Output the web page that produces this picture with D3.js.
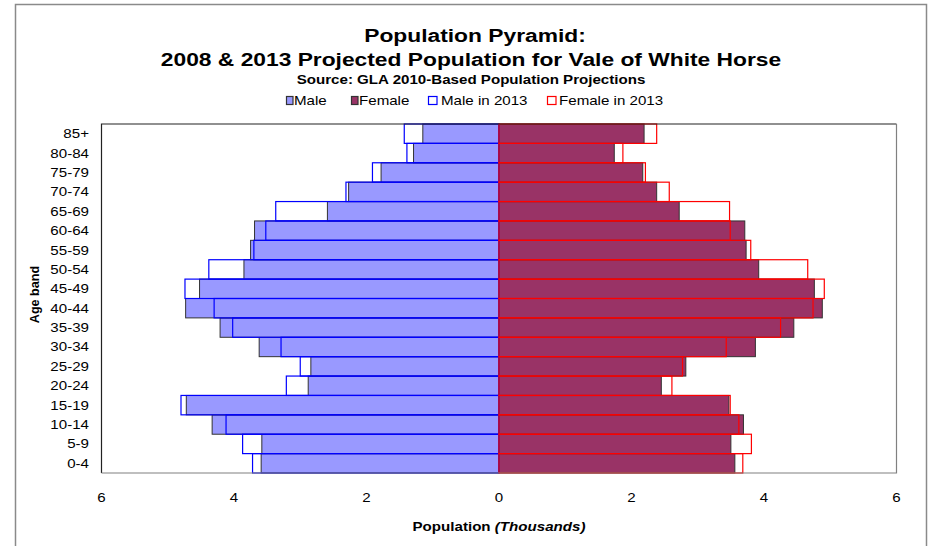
<!DOCTYPE html>
<html>
<head>
<meta charset="utf-8">
<script src="https://cdn.jsdelivr.net/npm/d3@7"></script>
<style>
  html, body { margin: 0; padding: 0; background: #fff; }
  svg { display: block; font-family: "Liberation Sans", Arial, sans-serif; }
</style>
</head>
<body>
<svg id="chart" width="934" height="546"></svg>
<script>
// Age bands, youngest first (drawn bottom to top)
const ageBands = ["0-4","5-9","10-14","15-19","20-24","25-29","30-34","35-39","40-44",
                  "45-49","50-54","55-59","60-64","65-69","70-74","75-79","80-84","85+"];
// Population in thousands
const male2008   = [3.59,3.58,4.33,4.72,2.88,2.84,3.62,4.21,4.73,4.52,3.85,3.75,3.69,2.59,2.27,1.78,1.29,1.15];
const female2008 = [3.56,3.50,3.69,3.47,2.45,2.82,3.87,4.45,4.88,4.76,3.92,3.73,3.71,2.72,2.38,2.17,1.74,2.19];
const male2013   = [3.72,3.87,4.12,4.80,3.21,3.00,3.29,4.02,4.30,4.74,4.38,3.70,3.52,3.37,2.31,1.91,1.39,1.43];
const female2013 = [3.68,3.81,3.62,3.49,2.61,2.77,3.43,4.25,4.74,4.91,4.66,3.80,3.49,3.48,2.57,2.21,1.87,2.38];
const xTicks = [-6,-4,-2,0,2,4,6];

const titleLines = ["Population Pyramid:", "2008 & 2013 Projected Population for Vale of White Horse"];
const subtitle = "Source: GLA 2010-Based Population Projections";
const legendItems = [
  { label: "Male",           fill: "#9999FF", stroke: "#333333" },
  { label: "Female",         fill: "#993366", stroke: "#333333" },
  { label: "Male in 2013",   fill: "none",    stroke: "#0000FF" },
  { label: "Female in 2013", fill: "none",    stroke: "#FF0000" }
];

const svg = d3.select("#chart");
const SX = 1.2; // horizontal text stretch

// Plot area
const plot = { left: 101.5, right: 896.5, top: 124, bottom: 473 };

const x = d3.scaleLinear().domain([-6, 6]).range([plot.left, plot.right]);
const y = d3.scaleBand().domain(ageBands.slice().reverse()).range([plot.top, plot.bottom]).padding(0);

function stretchedText(parent, px, py, str, opts) {
  const g = parent.append("g").attr("transform", `translate(${px},${py}) scale(${SX},1)`);
  const t = g.append("text")
    .attr("x", 0).attr("y", 0)
    .attr("text-anchor", opts.anchor || "middle")
    .attr("font-size", opts.size)
    .attr("font-weight", opts.weight || "normal")
    .attr("fill", "#000");
  t.text(str);
  return t;
}

// Outer chart frame
svg.append("path")
  .attr("d", `M15.5,546 V4.5 H926.5 V546`)
  .attr("fill", "none").attr("stroke", "#8a8a8a").attr("stroke-width", 1.5);

// Titles
stretchedText(svg, 475, 42, titleLines[0], { size: 19, weight: "bold" });
stretchedText(svg, 471, 66, titleLines[1], { size: 19, weight: "bold" });
stretchedText(svg, 471, 84, subtitle, { size: 12.6, weight: "bold" });

// Legend: swatch left edge, swatch width, label start
const legendLayout = [
  { sx: 286, w: 6.5, tx: 294 },
  { sx: 351, w: 6.5, tx: 359 },
  { sx: 428, w: 8.5, tx: 441 },
  { sx: 547, w: 8.5, tx: 559 }
];
legendItems.forEach((d, i) => {
  const L = legendLayout[i];
  svg.append("rect")
    .attr("x", L.sx + 0.5).attr("y", 96.5).attr("width", L.w).attr("height", 8)
    .attr("fill", d.fill === "none" ? "#fff" : d.fill)
    .attr("stroke", d.stroke).attr("stroke-width", 1.2);
  stretchedText(svg, L.tx, 105, d.label, { size: 12.6, anchor: "start" });
});

// Bars
const rows = ageBands.map((a, i) => ({
  age: a, m08: male2008[i], f08: female2008[i], m13: male2013[i], f13: female2013[i]
}));

const bars = svg.append("g");
// 2008 filled bars
bars.selectAll(".m08").data(rows).join("rect")
  .attr("x", d => x(-d.m08)).attr("y", d => y(d.age))
  .attr("width", d => x(0) - x(-d.m08)).attr("height", y.bandwidth())
  .attr("fill", "#9999FF").attr("stroke", "#333").attr("stroke-width", 1);
bars.selectAll(".f08").data(rows).join("rect")
  .attr("x", x(0)).attr("y", d => y(d.age))
  .attr("width", d => x(d.f08) - x(0)).attr("height", y.bandwidth())
  .attr("fill", "#993366").attr("stroke", "#333").attr("stroke-width", 1);
// 2013 outline bars
bars.selectAll(".m13").data(rows).join("rect")
  .attr("x", d => x(-d.m13)).attr("y", d => y(d.age))
  .attr("width", d => x(0) - x(-d.m13)).attr("height", y.bandwidth())
  .attr("fill", "none").attr("stroke", "#0000FF").attr("stroke-width", 1.2);
bars.selectAll(".f13").data(rows).join("rect")
  .attr("x", x(0)).attr("y", d => y(d.age))
  .attr("width", d => x(d.f13) - x(0)).attr("height", y.bandwidth())
  .attr("fill", "none").attr("stroke", "#FF0000").attr("stroke-width", 1.2);

// Plot frame
svg.append("path").attr("d", `M${plot.left},${plot.bottom} V${plot.top} H${plot.right}`)
  .attr("fill", "none").attr("stroke", "#222").attr("stroke-width", 1.2);
svg.append("path").attr("d", `M${plot.left},${plot.bottom} H${plot.right} V${plot.top}`)
  .attr("fill", "none").attr("stroke", "#808080").attr("stroke-width", 1.2);

// X axis tick labels
const xAxis = svg.append("g")
  .attr("transform", `translate(0,${plot.bottom})`)
  .call(d3.axisBottom(x).tickValues(xTicks).tickSize(0).tickPadding(0).tickFormat(() => ""));
xAxis.select(".domain").remove();
xTicks.forEach(v => {
  stretchedText(svg, x(v), 502, d3.format("d")(Math.abs(v)), { size: 12.6 });
});

// Y axis labels
const yAxis = svg.append("g")
  .attr("transform", `translate(${plot.left},0)`)
  .call(d3.axisLeft(y).tickSize(0).tickFormat(() => ""));
yAxis.select(".domain").remove();
ageBands.forEach(a => {
  stretchedText(svg, 89, y(a) + y.bandwidth() / 2 + 4.5, a, { size: 12.6, anchor: "end" });
});

// Axis titles
const xt = stretchedText(svg, 499, 531, "", { size: 12.6, weight: "bold" });
xt.append("tspan").text("Population ");
xt.append("tspan").attr("font-style", "italic").text("(Thousands)");

svg.append("text")
  .attr("transform", `translate(39,${(plot.top + plot.bottom) / 2 - 4}) rotate(-90)`)
  .attr("text-anchor", "middle")
  .attr("font-size", 12.6).attr("font-weight", "bold")
  .text("Age band");
</script>
</body>
</html>
